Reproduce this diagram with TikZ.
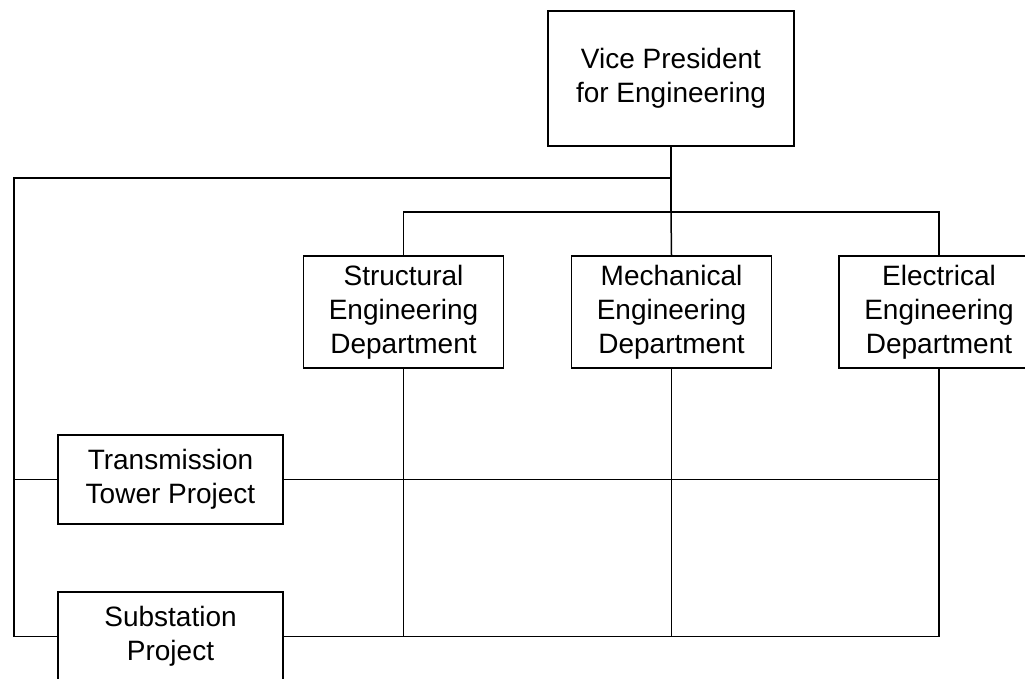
\documentclass[tikz,border=0pt]{standalone}
\usepackage{fontspec}
\setmainfont{Liberation Sans}

\begin{document}
\begin{tikzpicture}[x=1pt, y=-1pt, box/.style={draw, rectangle, line width=1.5pt, align=center, inner sep=0pt, font=\fontsize{28}{34}\selectfont}, dept/.style={box, minimum width=200pt, minimum height=112pt}, proj/.style={box, minimum width=225pt, minimum height=89pt}, n/.style={line width=1.5pt}]
            \useasboundingbox (0,0) rectangle (1025,679);
            \begin{scope}
            \clip (0,0) rectangle (1025,679);
            % nodes
            \node[box, minimum width=246pt, minimum height=135pt] (vp) at (671,78.5) {Vice President\\for Engineering};
            \node[dept] (st) at (403.5,312) {Structural\\Engineering\\Department};
            \node[dept] (me) at (671.5,312) {Mechanical\\Engineering\\Department};
            \node[dept] (el) at (939,312) {Electrical\\Engineering\\Department};
            \node[proj] (tr) at (170.5,479.5) {Transmission\\Tower Project};
            \node[proj] (sub) at (170.5,636.5) {Substation\\Project};
            \coordinate (bus) at (671,212);
            \coordinate (lt) at (14,178);
            % edges
            \draw [n] (vp.south) -- (bus);
            \draw [n] (st.north) -- (st.north |- bus) -- (el.north |- bus) -- (el.north);
            \draw [n] (bus) -- (me.north);
            \draw [n] (vp.south |- lt) -- (lt) |- (sub.west);
            \draw [n] (lt |- tr) -- (tr.west);
            \draw [n] (tr.east) -- (el.south |- tr);
            \draw [n] (sub.east) -- (el.south |- sub);
            \draw [n] (st.south) -- (st.south |- sub);
            \draw [n] (me.south) -- (me.south |- sub);
            \draw [n] (el.south) -- (el.south |- sub);
            \end{scope}
        \end{tikzpicture}
\end{document}
